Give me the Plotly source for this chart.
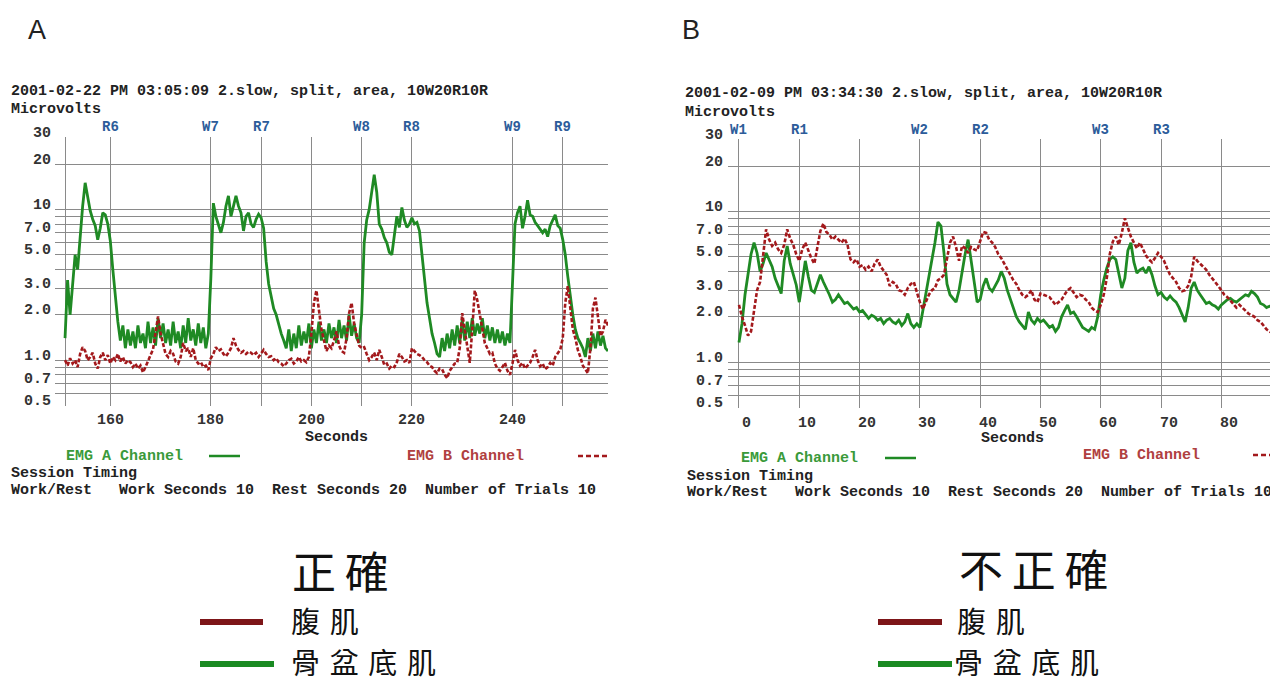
import math
import plotly.graph_objects as go

# ---------------- data ----------------
# Panel A: sampled every 0.5 s starting at 151 s
A_start, A_step = 151.0, 0.5
A_emg_a = [
    1.4, 3.4, 2.0, 3.0, 5.0, 4.0, 7.0, 10.5, 15.0, 12.0, 9.8, 8.6, 7.8, 6.3, 7.5, 9.5, 9.2, 8.0, 6.2, 4.0, 2.6, 1.8, 1.35,
    1.7, 1.2, 1.6, 1.25, 1.55, 1.2, 1.7, 1.3, 1.5, 1.2, 1.8, 1.3, 1.65, 1.25, 1.9, 1.4, 1.75, 1.3, 1.6, 1.25, 1.8, 1.3,
    1.55, 1.2, 1.7, 1.3, 1.9, 1.35, 1.6, 1.25, 1.75, 1.3, 1.65, 1.2, 1.5,
    3.5, 11.0, 9.0, 8.0, 7.0, 8.2, 10.5, 12.3, 9.0, 10.5, 12.3, 10.5, 9.5, 7.2, 9.0, 9.5, 8.0, 7.6, 8.6, 9.3, 8.8, 7.5,
    4.5, 3.2, 2.6, 2.2, 2.0, 1.7, 1.5, 1.35, 1.2,
    1.6, 1.15, 1.5, 1.2, 1.7, 1.25, 1.55, 1.3, 1.75, 1.2, 1.6, 1.3, 1.8, 1.35, 1.6, 1.3, 1.75, 1.4, 1.65, 1.3, 1.85, 1.4,
    1.7, 1.35, 2.0, 1.45, 1.75, 1.4, 1.3,
    2.0, 6.0, 8.5, 10.0, 13.0, 17.0, 13.0, 8.0, 7.4, 6.5, 6.0, 5.2, 5.0, 6.5, 9.0, 7.6, 10.3, 8.5, 7.6, 8.0, 8.8, 8.0,
    8.2, 7.2, 5.0, 3.4, 2.4, 1.9, 1.5, 1.3, 1.1, 1.05,
    1.4, 1.15, 1.5, 1.2, 1.6, 1.25, 1.7, 1.3, 1.85, 1.35, 1.8, 1.4, 1.9, 1.45, 1.75, 1.5, 1.9, 1.4, 1.7, 1.35, 1.65, 1.3,
    1.6, 1.3, 1.55, 1.25, 1.5, 1.3,
    3.0, 8.0, 9.5, 10.5, 7.5, 9.0, 11.5, 9.2, 9.0, 8.2, 7.8, 7.4, 7.0, 7.4, 6.6, 7.8, 8.5, 9.2, 7.8, 7.5, 6.3, 5.0,
    3.6, 2.6, 2.0, 1.6, 1.4, 1.3, 1.2, 1.05,
    1.4, 1.15, 1.5, 1.2, 1.55, 1.25, 1.45, 1.2, 1.15,
]
A_emg_b = [
    1.0, 0.92, 1.03, 0.95, 1.0, 0.9, 1.1, 1.22, 1.15, 1.0, 1.05, 1.12, 0.95, 0.88, 1.05, 1.12, 1.0, 1.08, 0.95, 1.05,
    1.0, 1.1, 0.98, 1.05, 0.95, 1.0, 0.97, 0.9, 0.95, 0.88, 0.92, 0.83, 0.9, 1.0, 1.08, 1.18, 1.5, 1.95, 1.5, 1.25,
    1.1, 1.05, 1.15, 1.1, 0.98, 0.95, 1.05, 1.3, 1.15, 1.2, 1.05, 1.2, 1.0, 0.95, 0.97, 0.9, 0.92, 0.86,
    1.03, 1.1, 1.22, 1.15, 1.18, 1.1, 1.06, 1.12, 1.2, 1.4, 1.25, 1.17, 1.12, 1.15, 1.1, 1.14, 1.12, 1.08, 1.12, 1.05,
    1.1, 1.17, 1.1, 1.05, 1.06, 1.0, 1.03, 0.97, 0.95, 0.91, 0.95, 1.0, 1.02, 0.95, 0.98, 1.05, 0.98, 1.0, 0.97, 1.05,
    1.5, 2.4, 2.9, 2.2, 1.6, 1.35, 1.15, 1.25, 1.2, 1.35, 1.55, 1.25, 1.15, 1.12, 1.4, 2.05, 2.4, 1.75, 1.5, 1.25,
    1.2, 1.22, 1.1, 1.0, 1.05, 1.12, 1.0, 1.17, 1.05, 0.93, 0.95, 0.88, 0.92, 0.9, 0.97, 1.1, 1.05, 0.98, 1.0, 0.96,
    1.2, 1.15, 1.1, 1.08, 1.05, 1.0, 0.97, 0.92, 0.9, 0.85, 0.82, 0.88, 0.87, 0.8, 0.76, 0.85, 0.9, 0.95, 0.96, 1.2,
    2.05, 1.6, 1.2, 0.96, 1.6, 2.9, 2.5, 2.0, 1.65, 1.3, 1.2, 1.1, 1.12, 0.95, 0.88, 0.85, 0.9, 0.96, 0.85, 0.8,
    0.95, 1.17, 1.0, 0.92, 0.96, 0.88, 0.92, 0.96, 1.05, 1.17, 1.0, 0.91, 0.95, 0.87, 0.9, 0.96, 0.92, 1.05, 1.11, 1.17,
    1.4, 2.4, 3.1, 2.1, 1.6, 1.4, 1.17, 1.05, 0.92, 0.87, 0.82, 1.2, 2.2, 2.6, 1.9, 1.45, 1.55, 1.85, 1.7,
]

# Panel B: sampled every 0.5 s starting at 0 s
B_start, B_step = 0.0, 0.5
B_emg_a = [
    1.35, 1.8, 2.8, 3.8, 5.2, 6.2, 5.3, 4.0, 4.5, 5.3, 4.8, 4.3, 3.6, 3.2, 2.85, 4.7, 5.9, 4.5, 3.8, 3.25,
    2.5, 3.5, 4.7, 3.7, 3.0, 2.9, 3.3, 3.8, 3.4, 3.1, 2.8, 2.5, 2.6, 2.8, 2.6, 2.45, 2.5, 2.35, 2.25, 2.3,
    2.15, 2.2, 2.05, 1.95, 2.05, 2.0, 1.9, 1.95, 1.8, 1.9, 1.95, 1.85, 1.8, 1.9, 1.75, 1.85, 2.1, 1.8, 1.7, 1.8,
    1.7, 2.2, 2.8, 3.6, 4.8, 6.2, 8.5, 8.0, 5.3, 3.3, 2.8, 2.65, 2.5, 3.0, 4.0, 5.2, 6.5, 4.8, 3.5, 2.5,
    2.6, 3.2, 3.6, 3.1, 2.95, 3.2, 3.5, 4.0, 3.6, 3.0, 2.6, 2.3, 2.0, 1.85, 1.75, 1.65, 2.15, 1.9, 1.8, 1.95,
    1.85, 1.9, 1.8, 1.7, 1.75, 1.6, 1.7, 2.0, 2.2, 2.4, 2.1, 2.15, 2.0, 1.85, 1.7, 1.65, 1.6, 1.7, 1.65, 2.0,
    2.8, 3.5, 4.2, 4.8, 5.0, 4.8, 3.8, 3.1, 3.6, 5.5, 6.2, 4.6, 3.9, 4.1, 4.2, 3.9, 4.3, 3.8, 3.2, 2.8,
    2.9, 2.7, 2.6, 2.75, 2.6, 2.5, 2.3, 2.05, 1.85, 2.3, 3.1, 3.4, 3.0, 2.8, 2.6, 2.45, 2.5, 2.4, 2.35, 2.25,
    2.4, 2.5, 2.6, 2.65, 2.55, 2.5, 2.6, 2.7, 2.8, 2.75, 2.95, 2.85, 2.7, 2.45, 2.4, 2.3, 2.35, 2.3, 2.2, 2.25,
]
B_emg_b = [
    2.4, 2.0, 1.75, 1.5, 1.6, 2.2, 3.0, 3.4, 5.0, 7.6, 6.5, 5.9, 6.2, 5.6, 5.3, 6.0, 7.6, 6.6, 6.0, 5.2,
    4.7, 5.6, 6.2, 5.5, 4.9, 4.5, 5.8, 7.4, 8.3, 7.3, 7.0, 6.5, 6.8, 6.5, 6.2, 6.6, 6.0, 4.8, 4.6, 4.8,
    4.3, 4.4, 4.1, 4.3, 4.0, 4.5, 4.8, 4.3, 4.0, 3.8, 3.2, 3.4, 3.3, 3.0, 2.95, 2.8, 3.1, 3.3, 3.4, 2.9,
    2.5, 2.25, 2.5, 2.8, 3.0, 3.1, 3.5, 3.6, 3.8, 5.0, 6.2, 6.8, 5.8, 4.7, 5.9, 5.7, 5.3, 5.8, 5.6, 5.5,
    6.4, 7.3, 7.2, 6.5, 6.2, 5.8, 5.2, 4.9, 4.5, 4.1, 3.8, 3.5, 3.3, 3.0, 2.8, 2.7, 2.8, 3.0, 2.6, 2.5,
    2.85, 2.8, 2.75, 2.7, 2.55, 2.4, 2.5, 2.6, 2.8, 3.0, 3.1, 2.9, 2.7, 2.8, 2.75, 2.6, 2.5, 2.3, 2.2, 2.15,
    2.4, 2.8, 3.6, 5.2, 6.3, 6.8, 6.0, 7.2, 9.0, 7.8, 6.8, 6.2, 5.7, 6.2, 5.6, 5.1, 4.8, 4.6, 4.9, 5.3,
    5.0, 4.7, 4.2, 3.8, 3.6, 3.4, 3.1, 2.95, 3.0, 3.2, 3.7, 5.0, 4.7, 4.5, 4.3, 4.1, 3.8, 3.6, 3.4, 3.2,
    3.0, 2.8, 2.7, 2.55, 2.4, 2.3, 2.4, 2.3, 2.2, 2.1, 2.05, 2.0, 1.9, 1.85, 1.75, 1.65, 1.6, 1.55, 1.35, 1.3,
]

y_grid = [30, 20, 10, 9, 8, 7, 6, 5, 4, 3, 2, 1, 0.9, 0.8, 0.7, 0.6, 0.5]
y_tick_vals = [30, 20, 10, 7, 5, 3, 2, 1, 0.7, 0.5]
y_tick_text = ["30", "20", "10", "7.0", "5.0", "3.0", "2.0", "1.0", "0.7", "0.5"]

A_xgrid = [151, 160, 180, 190, 200, 210, 220, 240, 250]
A_xtick_vals = [160, 180, 200, 220, 240]
A_xtick_text = ["160", "180", "200", "220", "240"]
B_xgrid = [0, 10, 20, 30, 40, 50, 60, 70, 80]
B_xtick_text = ["0", "10", "20", "30", "40", "50", "60", "70", "80"]

A_mark_t = [160, 180, 190, 210, 220, 240, 250]
A_mark_lbl = ["R6", "W7", "R7", "W8", "R8", "W9", "R9"]
B_mark_t = [0, 10, 30, 40, 60, 70]
B_mark_lbl = ["W1", "R1", "W2", "R2", "W3", "R3"]

A_header = "2001-02-22 PM 03:05:09 2.slow, split, area, 10W20R10R"
B_header = "2001-02-09 PM 03:34:30 2.slow, split, area, 10W20R10R"
timing = "Work/Rest   Work Seconds 10  Rest Seconds 20  Number of Trials 10"

# ---------------- helpers ----------------
# the page body adds an 8px margin; the figure is sized so its content lands on window pixels
OFF = 8
FW, FH = 1270, 676

def px(x):
    return (x - OFF) / FW

def py(y):
    return 1 - (y - OFF) / FH

GREEN = "#1f8a24"
RED = "#a3191c"
MONO = "Liberation Mono"
CJK = "Noto Sans CJK TC"

A_t = [A_start + A_step * i for i in range(len(A_emg_a))]
A_tb = [A_start + A_step * i for i in range(len(A_emg_b))]
B_t = [B_start + B_step * i for i in range(len(B_emg_a))]
B_tb = [B_start + B_step * i for i in range(len(B_emg_b))]

fig = go.Figure()
fig.add_trace(go.Scatter(x=A_t, y=A_emg_a, mode="lines", line=dict(color=GREEN, width=2.8),
                         xaxis="x", yaxis="y", hoverinfo="skip"))
fig.add_trace(go.Scatter(x=A_tb, y=A_emg_b, mode="lines", line=dict(color=RED, width=2.6, dash="4px,2px"),
                         xaxis="x", yaxis="y", hoverinfo="skip"))
fig.add_trace(go.Scatter(x=B_t, y=B_emg_a, mode="lines", line=dict(color=GREEN, width=2.8),
                         xaxis="x2", yaxis="y2", hoverinfo="skip"))
fig.add_trace(go.Scatter(x=B_tb, y=B_emg_b, mode="lines", line=dict(color=RED, width=2.6, dash="4px,2px"),
                         xaxis="x2", yaxis="y2", hoverinfo="skip"))

GRID = "#8a8a8a"
yrange = [math.log10(0.5) - 0.003, math.log10(30) + 0.003]
common = dict(showgrid=True, gridcolor=GRID, zeroline=False, showline=False, ticks="",
              showticklabels=False, tickmode="array")

fig.update_layout(
    width=FW, height=FH, margin=dict(l=0, r=0, t=0, b=0),
    paper_bgcolor="white", plot_bgcolor="white", showlegend=False,
    xaxis=dict(domain=[px(55), px(608)], range=[149.0, 259.0], anchor="y",
               tickvals=A_xgrid, gridwidth=1.3, **common),
    yaxis=dict(domain=[py(406), py(137)], type="log", range=yrange, anchor="x",
               tickvals=y_grid, gridwidth=1.1, **common),
    xaxis2=dict(domain=[px(728), 1.0], range=[-1.82, 89.4], anchor="y2",
                tickvals=B_xgrid, gridwidth=1.3, **common),
    yaxis2=dict(domain=[py(408), py(139)], type="log", range=yrange, anchor="x2",
                tickvals=y_grid, gridwidth=1.1, **common),
)

ann = []
def text(x, y, s, size=15, color="#222222", family=MONO, bold=True, xanchor="left",
         xref="paper", yref="paper", xshift=0, yshift=0):
    ann.append(dict(x=(x if xref != "paper" else px(x)), y=(y if yref != "paper" else py(y)),
                    xref=xref, yref=yref, text=s, showarrow=False, xanchor=xanchor, yanchor="middle",
                    xshift=xshift, yshift=yshift,
                    font=dict(family=family, size=size, color=color, weight=("bold" if bold else "normal"))))

nb = lambda s: s.replace(" ", "\u00a0")

# axis tick labels (placed like the printout: just above their grid lines)
for v, s in zip(y_tick_vals, y_tick_text):
    text(53, math.log10(v), s, color="#333333", xanchor="right", yref="y", yshift=4)
    text(725, math.log10(v), s, color="#333333", xanchor="right", yref="y2", yshift=4)
for v, s in zip(A_xtick_vals, A_xtick_text):
    text(v, 420, s, color="#333333", xanchor="center", xref="x")
for v, s in zip(B_xgrid, B_xtick_text):
    text(v, 423, s, color="#333333", xanchor="center", xref="x2", xshift=7.5)

# panel letters
text(26, 30, "A", size=27, family="Liberation Sans", bold=False)
text(680, 30, "B", size=27, family="Liberation Sans", bold=False)

# Panel A texts
text(9, 92, nb(A_header))
text(9, 109, "Microvolts")
for t, s in zip(A_mark_t, A_mark_lbl):
    text(t, 127, s, size=14, color="#2c5c9a", xanchor="center", xref="x")
text(336, 437, "Seconds", xanchor="center")
text(64, 456, nb("EMG A Channel"), color="#3a9a3a")
text(405, 456, nb("EMG B Channel"), color="#b04040")
text(9, 473, nb("Session Timing"))
text(9, 490, nb(timing))

# Panel B texts
text(683, 94, nb(B_header))
text(683, 112, "Microvolts")
for t, s in zip(B_mark_t, B_mark_lbl):
    text(t, 130, s, size=14, color="#2c5c9a", xanchor="center", xref="x2")
text(1012, 438, "Seconds", xanchor="center")
text(739, 458, nb("EMG A Channel"), color="#3a9a3a")
text(1081, 455, nb("EMG B Channel"), color="#b04040")
text(685, 476, nb("Session Timing"))
text(685, 492, nb(timing))

# Chinese captions and legends (narrow spaces widen the glyph spacing like the original)
sp_big = lambda s: "\u2009".join(s)
sp = lambda s: "\u2004".join(s)
text(340, 570, sp_big("正確"), size=44, family=CJK, bold=False, color="#111111", xanchor="center")
text(289, 620, sp("腹肌"), size=29, family=CJK, bold=False, color="#111111")
text(289, 661, sp("骨盆底肌"), size=29, family=CJK, bold=False, color="#111111")
text(1034, 568, sp_big("不正確"), size=44, family=CJK, bold=False, color="#111111", xanchor="center")
text(955, 620, sp("腹肌"), size=29, family=CJK, bold=False, color="#111111")
text(952, 661, sp("骨盆底肌"), size=29, family=CJK, bold=False, color="#111111")

fig.update_layout(annotations=ann)

shapes = []
def hline(x0, x1, y, color, width, dash="solid"):
    shapes.append(dict(type="line", xref="paper", yref="paper", x0=px(x0), x1=px(x1), y0=py(y), y1=py(y),
                       line=dict(color=color, width=width, dash=dash)))

# channel legend samples
hline(209, 240, 456, GREEN, 2.5)
hline(578, 610, 456, RED, 2.5, "5px,3px")
hline(885, 916, 458, GREEN, 2.5)
hline(1253, 1278, 455, RED, 2.5, "5px,3px")
# Chinese legend bars
hline(200, 263, 622, "#7d1518", 6)
hline(200, 274, 664, "#1a8a22", 6)
hline(878, 942, 622, "#7d1518", 6)
hline(878, 952, 664, "#1a8a22", 6)

fig.update_layout(shapes=shapes)

fig.write_html("out.html")
